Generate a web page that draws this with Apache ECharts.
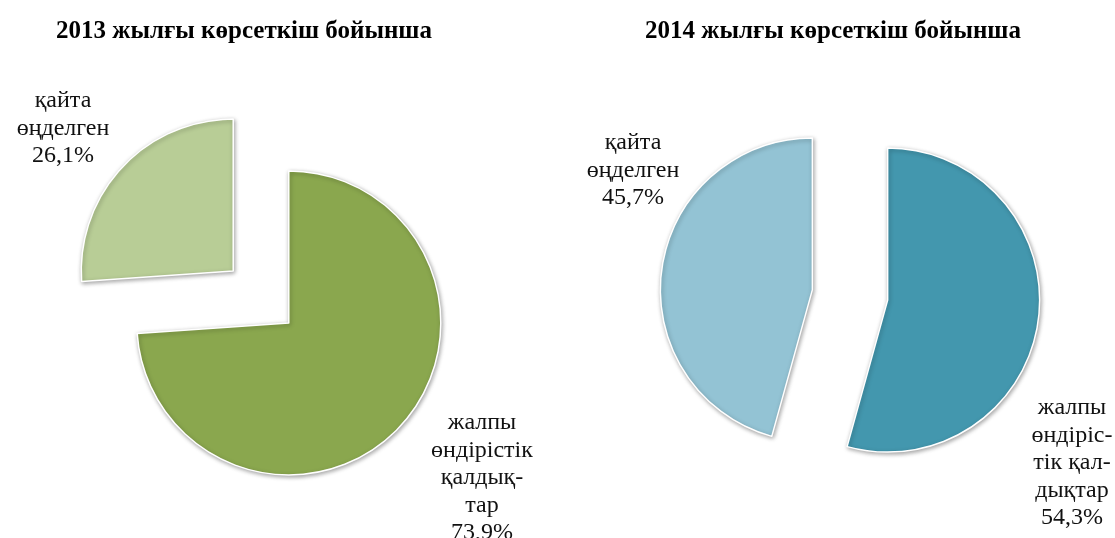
<!DOCTYPE html>
<html>
<head>
<meta charset="utf-8">
<script src="https://cdn.jsdelivr.net/npm/echarts@6/dist/echarts.min.js"></script>
<style>
  html, body { margin: 0; padding: 0; background: #fff; }
  #main { width: 1115px; height: 538px; }
</style>
</head>
<body>
<div id="main"></div>
<script>
// данные
const titles = ['2013 жылғы көрсеткіш бойынша', '2014 жылғы көрсеткіш бойынша']
const names = ['жалпы өндірістік қалдықтар', 'қайта өңделген']
const values2013 = [73.9, 26.1]
const values2014 = [54.3, 45.7]
const labels2013 = ['жалпы\nөндірістік\nқалдық-\nтар\n73,9%', 'қайта\nөңделген\n26,1%']
const labels2014 = ['жалпы\nөндіріс-\nтік қал-\nдықтар\n54,3%', 'қайта\nөңделген\n45,7%']

const colors2013 = ['#8aa74e', '#b8cd96']
const colors2014 = ['#4397ae', '#93c3d4']

// позиции подписей (центр текста, верх блока)
const labelPos2013 = [{ x: 482, y: 409 }, { x: 63, y: 87 }]
const labelPos2014 = [{ x: 1072, y: 394 }, { x: 633, y: 129 }]

const font = '"Liberation Serif", "Times New Roman", serif'

function makeSeries (values, colors, center) {
  return {
    type: 'pie',
    center: center,
    radius: 152,
    startAngle: 90,
    clockwise: true,
    selectedMode: 'multiple',
    selectedOffset: 38,
    emphasis: { disabled: true },
    itemStyle: {
      borderColor: '#ffffff',
      borderWidth: 1.5,
      shadowBlur: 4,
      shadowColor: 'rgba(0,0,0,0.35)',
      shadowOffsetX: 1,
      shadowOffsetY: 1.5
    },
    label: { show: false },
    labelLine: { show: false },
    data: values.map((v, i) => ({
      name: names[i],
      value: v,
      selected: true,
      itemStyle: { color: colors[i] }
    }))
  }
}

// подписи долей
function makeLabels (labels, pos) {
  return labels.map((t, i) => ({
    text: t,
    left: pos[i].x,
    top: pos[i].y,
    textAlign: 'center',
    padding: 0,
    textStyle: {
      fontFamily: font,
      fontWeight: 'normal',
      fontSize: 24,
      lineHeight: 27.5,
      color: '#111'
    }
  }))
}

const titleStyle = { fontFamily: font, fontWeight: 'bold', fontSize: 25, color: '#000' }

const chart = echarts.init(document.getElementById('main'))
chart.setOption({
  backgroundColor: '#ffffff',
  animation: false,
  title: [
    { text: titles[0], left: 239, top: 14, textAlign: 'center', textStyle: titleStyle },
    { text: titles[1], left: 828, top: 14, textAlign: 'center', textStyle: titleStyle }
  ].concat(makeLabels(labels2013, labelPos2013), makeLabels(labels2014, labelPos2014)),
  series: [
    makeSeries(values2013, colors2013, [261, 297]),
    makeSeries(values2014, colors2014, [850, 295])
  ]
})
</script>
</body>
</html>
